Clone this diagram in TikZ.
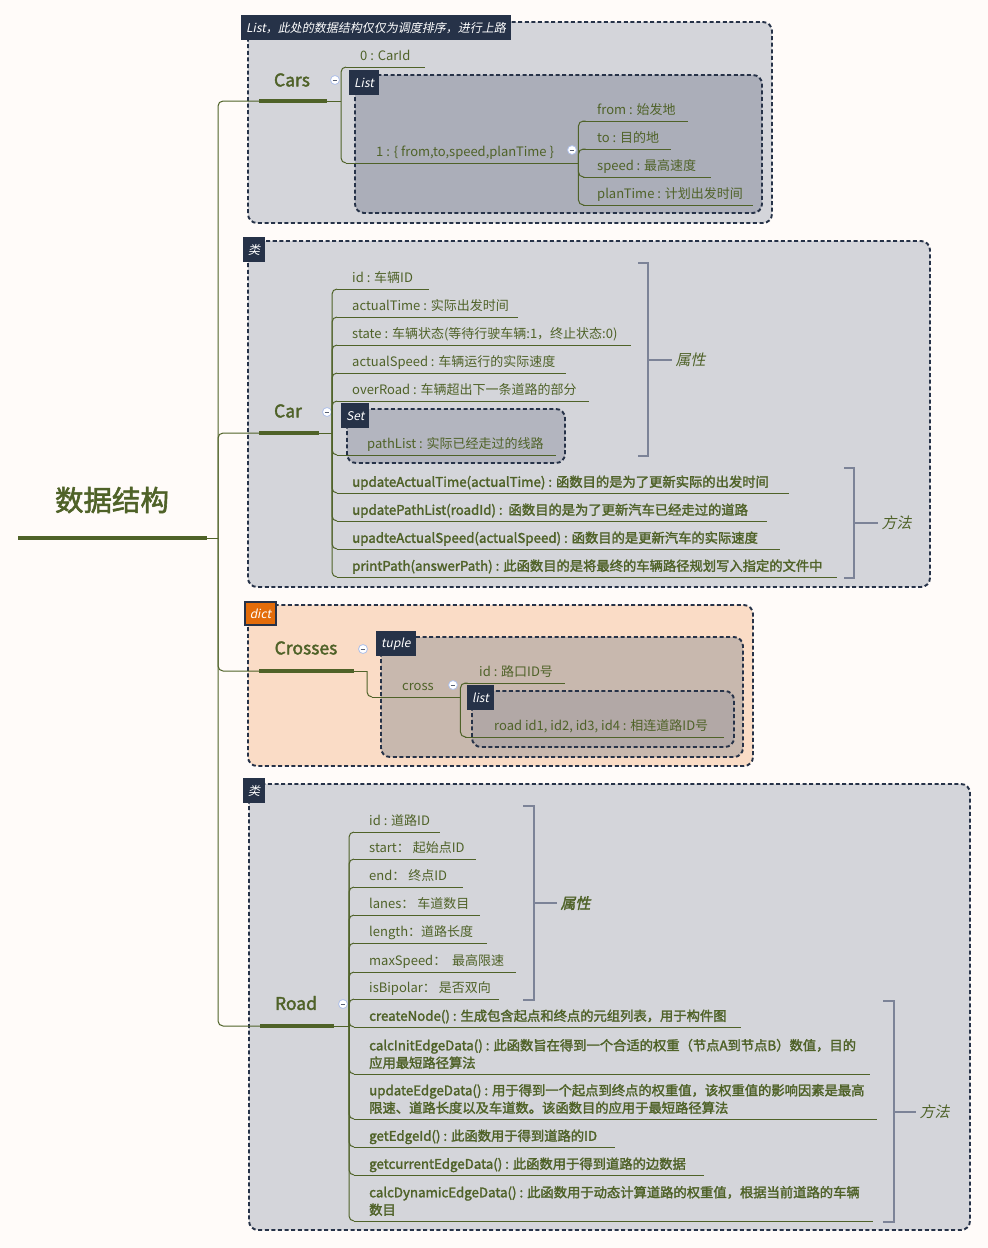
\documentclass[tikz,border=0pt]{standalone}
\usepackage{fontspec}
\setmainfont{Noto Sans CJK SC}[AutoFakeSlant=0.2,AutoFakeBold=2]
\usetikzlibrary{calc}
\definecolor{bgc}{HTML}{FFFBF9}
\definecolor{olv}{HTML}{4F6228}
\definecolor{nvy}{HTML}{263248}
\definecolor{gbox}{HTML}{D4D5DA}
\definecolor{gin}{HTML}{ABAEB9}
\definecolor{gset}{HTML}{B3B5BF}
\definecolor{pch}{HTML}{FADCC6}
\definecolor{tup}{HTML}{C8B8AE}
\definecolor{lst}{HTML}{B2A8A6}
\definecolor{org}{HTML}{E36C0A}
\definecolor{brc}{HTML}{7C8397}
\definecolor{clc}{HTML}{AFC0E8}
\newcommand\leafnode[7][leafn]{%
  \node[#1] (#2) at (#3,#4) {\makebox[#5pt][l]{\hspace*{#6pt}#7}};
  \draw[olv, line width=1pt] ($(#2.south west)+(5,0)$) -- (#2.south east);}
\newcommand\twol[2]{\begin{tabular}[b]{@{}l@{}}#1\\#2\end{tabular}}
\begin{document}
\begin{tikzpicture}[x=1pt,y=-1pt,
 conn/.style={draw=olv, line width=1pt, rounded corners=5pt},
 thk/.style={draw=olv, line width=3.6pt},
 dbox/.style={draw=nvy, line width=1.9pt, dash pattern=on 4pt off 2.6pt, rounded corners=9pt},
 tagn/.style={fill=nvy, text=white, font=\fontsize{12}{14}\selectfont\itshape, inner xsep=5pt, inner ysep=0pt, minimum height=25pt, anchor=north west},
 topic/.style={text=olv, font=\fontsize{17.5}{20}\selectfont\bfseries},
 leafn/.style={inner sep=0pt, anchor=south west, text depth=6pt, text height=12pt, text=olv, font=\fontsize{13}{17.5}\selectfont},
 meth/.style={leafn, font=\fontsize{13.3}{17.5}\selectfont\bfseries},
 brk/.style={draw=brc, line width=1.6pt},
 grp/.style={text=olv, font=\fontsize{15}{17}\selectfont\itshape, anchor=west},
 colps/.style={circle, draw=clc, fill=white, line width=0.8pt, minimum size=9pt, inner sep=0pt,
   path picture={\draw[draw=clc!50!black, line width=0.9pt] ([xshift=-2.3pt]path picture bounding box.center) -- ([xshift=2.3pt]path picture bounding box.center);}}
]
\fill[bgc] (0,0) rectangle (988,1248);
\useasboundingbox (0,0) rectangle (988,1248);

% ---------- boxes ----------
\draw[dbox, fill=gbox] (248,22) rectangle (772,223);
\node[tagn] (tagCars) at (241,15) {List，此处的数据结构仅仅为调度排序，进行上路};
\draw[dbox, fill=gin] (355,75) rectangle (762,213);
\node[tagn] (tagListA) at (349,70) {List};

\draw[dbox, fill=gbox] (248,241) rectangle (930,587);
\node[tagn] (tagCar) at (243,237) {类};
\draw[dbox, fill=gset] (347,409) rectangle (565,463);
\node[tagn] (tagSet) at (341,403) {Set};

\draw[dbox, fill=pch] (248,605) rectangle (753,766);
\node[tagn, fill=org, draw=nvy, line width=1.6pt, minimum height=23pt] (tagDict) at (244,601) {dict};
\draw[dbox, fill=tup] (381,637) rectangle (743,757);
\node[tagn] (tagTuple) at (376,631) {tuple};
\draw[dbox, fill=lst] (472,691) rectangle (734,747);
\node[tagn] (tagListB) at (467,685) {list};

\draw[dbox, fill=gbox] (249,784) rectangle (970,1230);
\node[tagn] (tagRoad) at (243,778) {类};

% ---------- root ----------
\node[text=olv, font=\fontsize{28.5}{32}\selectfont\bfseries] (root) at (112,500) {数据结构};
\coordinate (rootL) at (18,538);
\coordinate (rootR) at (207,538);
\coordinate (trunk) at (218,538);
\draw[olv, line width=4.5pt] (rootL) -- (rootR);
\draw[conn] (rootR) -- (trunk);

% ---------- Cars ----------
\node[topic] (cars) at (292,80) {Cars};
\coordinate (carsUL) at (259,101);
\coordinate (carsUR) at (327,101);
\coordinate (carsJ) at (341,101);
\draw[conn] (trunk) |- (carsUL);
\draw[thk] (carsUL) -- (carsUR);
\draw[conn] (carsUR) -- (carsJ);
\node[colps] (colCars) at (335,80) {};
\leafnode{c0}{341}{67}{84}{19}{0 : CarId}
\leafnode{c1}{341}{163}{237}{35}{1 : \{ from,to,speed,planTime \}}
\draw[conn] (carsJ) |- ($(c0.south west)+(5,0)$);
\draw[conn] (carsJ) |- ($(c1.south west)+(5,0)$);
\node[colps] (colC1) at (572,150) {};
\leafnode{cf}{578}{121}{110}{19}{from : 始发地}
\leafnode{ct}{578}{149}{93}{19}{to : 目的地}
\leafnode{cs}{578}{177}{133}{19}{speed : 最高速度}
\leafnode{cp}{578}{205}{175}{19}{planTime : 计划出发时间}
\foreach \n in {cf,ct,cs,cp}{\draw[conn] (c1.south east) |- ($(\n.south west)+(5,0)$);}

% ---------- Car ----------
\node[topic] (car) at (288,411) {Car};
\coordinate (carUL) at (259,433);
\coordinate (carUR) at (319,433);
\coordinate (carJ) at (332,433);
\draw[conn] (trunk) |- (carUL);
\draw[thk] (carUL) -- (carUR);
\draw[conn] (carUR) -- (carJ);
\node[colps] (colCar) at (327,412) {};
\leafnode{a1}{332}{289}{97}{20}{id : 车辆ID}
\leafnode{a2}{332}{317}{186}{20}{actualTime : 实际出发时间}
\leafnode{a3}{332}{345}{299}{20}{state : 车辆状态(等待行驶车辆:1，终止状态:0)}
\leafnode{a4}{332}{373}{234}{20}{actualSpeed : 车辆运行的实际速度}
\leafnode{a5}{332}{401}{257}{20}{overRoad : 车辆超出下一条道路的部分}
\leafnode{a6}{332}{455}{224}{35}{pathList : 实际已经走过的线路}
\leafnode[meth]{m1}{332}{493}{457}{20}{updateActualTime(actualTime) : 函数目的是为了更新实际的出发时间}
\leafnode[meth]{m2}{332}{521}{435}{20}{updatePathList(roadId) :\ \ 函数目的是为了更新汽车已经走过的道路}
\leafnode[meth]{m3}{332}{549}{448}{20}{upadteActualSpeed(actualSpeed) : 函数目的是更新汽车的实际速度}
\leafnode[meth]{m4}{332}{577}{505}{20}{printPath(answerPath) : 此函数目的是将最终的车辆路径规划写入指定的文件中}
\foreach \n in {a1,a2,a3,a4,a5,a6,m1,m2,m3,m4}{\draw[conn] (carJ) |- ($(\n.south west)+(5,0)$);}
\node[grp] (carAttr) at (672,360) {属性};
\draw[brk] (638,263) -- (648,263) -- (648,456) -- (638,456);
\draw[brk] (648,360) -- (carAttr.west);
\node[grp] (carMeth) at (878,523) {方法};
\draw[brk] (844,468) -- (854,468) -- (854,578) -- (844,578);
\draw[brk] (854,523) -- (carMeth.west);

% ---------- Crosses ----------
\node[topic] (crosses) at (306,648) {Crosses};
\coordinate (crUL) at (259,671);
\coordinate (crUR) at (354,671);
\coordinate (crJ) at (367,671);
\draw[conn] (trunk) |- (crUL);
\draw[thk] (crUL) -- (crUR);
\draw[conn] (crUR) -- (crJ);
\node[colps] (colCrosses) at (363,649) {};
\leafnode{cross}{367}{697}{93}{35}{cross}
\draw[conn] (crJ) |- ($(cross.south west)+(5,0)$);
\node[colps] (colCross) at (453,685) {};
\leafnode{xid}{460}{683}{105}{19}{id : 路口ID号}
\leafnode{xroad}{460}{737}{264}{34}{road id1, id2, id3, id4 : 相连道路ID号}
\foreach \n in {xid,xroad}{\draw[conn] (cross.south east) |- ($(\n.south west)+(5,0)$);}

% ---------- Road ----------
\node[topic] (road) at (296,1003) {Road};
\coordinate (rdUL) at (260,1026);
\coordinate (rdUR) at (334,1026);
\coordinate (rdJ) at (349,1026);
\draw[conn] (trunk) |- (rdUL);
\draw[thk] (rdUL) -- (rdUR);
\draw[conn] (rdUR) -- (rdJ);
\node[colps] (colRoad) at (343,1004) {};
\leafnode{r1}{349}{832}{91}{20}{id : 道路ID}
\leafnode{r2}{349}{859}{127}{20}{start： 起始点ID}
\leafnode{r3}{349}{887}{114}{20}{end：\ 终点ID}
\leafnode{r4}{349}{915}{131}{20}{lanes：\ 车道数目}
\leafnode{r5}{349}{943}{138}{20}{length：道路长度}
\leafnode{r6}{349}{972}{167}{20}{maxSpeed：\ \ 最高限速}
\leafnode{r7}{349}{999}{150}{20}{isBipolar：\ 是否双向}
\leafnode[meth]{n1}{349}{1027}{392}{20}{createNode() : 生成包含起点和终点的元组列表，用于构件图}
\leafnode[meth]{n2}{349}{1074}{521}{20}{\twol{calcInitEdgeData() : 此函数旨在得到一个合适的权重（节点A到节点B）数值，目的}{应用最短路径算法}}
\leafnode[meth]{n3}{349}{1119}{528}{20}{\twol{updateEdgeData() : 用于得到一个起点到终点的权重值，该权重值的影响因素是最高}{限速、道路长度以及车道数。该函数目的应用于最短路径算法}}
\leafnode[meth]{n4}{349}{1147}{266}{20}{getEdgeId() : 此函数用于得到道路的ID}
\leafnode[meth]{n5}{349}{1175}{355}{20}{getcurrentEdgeData() : 此函数用于得到道路的边数据}
\leafnode[meth]{n6}{349}{1221}{524}{20}{\twol{calcDynamicEdgeData() : 此函数用于动态计算道路的权重值，根据当前道路的车辆}{数目}}
\foreach \n in {r1,r2,r3,r4,r5,r6,r7,n1,n2,n3,n4,n5,n6}{\draw[conn] (rdJ) |- ($(\n.south west)+(5,0)$);}
\node[grp, font=\fontsize{15}{17}\selectfont\bfseries\itshape] (rdAttr) at (557,903) {属性};
\draw[brk] (523,806) -- (534,806) -- (534,1000) -- (523,1000);
\draw[brk] (534,903) -- (rdAttr.west);
\node[grp] (rdMeth) at (916,1112) {方法};
\draw[brk] (883,1001) -- (894,1001) -- (894,1222) -- (883,1222);
\draw[brk] (894,1112) -- (rdMeth.west);
\end{tikzpicture}
\end{document}
